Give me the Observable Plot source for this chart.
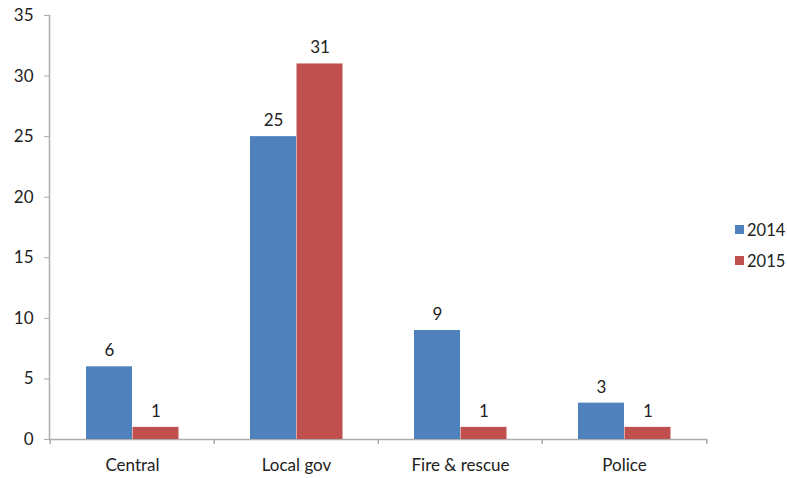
<!DOCTYPE html>
<html>
<head>
<meta charset="utf-8">
<script src="https://cdn.jsdelivr.net/npm/d3@7"></script>
<script src="https://cdn.jsdelivr.net/npm/@observablehq/plot@0.6"></script>
<style>
  html, body { margin: 0; padding: 0; background: #fff; }
  #wrap { position: relative; width: 787px; height: 478px; }
  #legend { position: absolute; left: 735px; top: 214px; font-family: Lato, "Open Sans", sans-serif; font-size: 16.5px; color: #222; }
  .item { display: flex; align-items: center; height: 31px; }
  .sw { width: 9px; height: 9px; margin-right: 3px; }
</style>
</head>
<body>
<div id="wrap"><div id="legend"></div></div>
<script>
const categories = ["Central", "Local gov", "Fire & rescue", "Police"];
const years = ["2014", "2015"];
const values2014 = [6, 25, 9, 3];
const values2015 = [1, 31, 1, 1];
const yTicks = [0, 5, 10, 15, 20, 25, 30, 35];
const colors = ["#4F81BD", "#C0504D"];

const d2014 = categories.map((c, i) => ({category: c, value: values2014[i]}));
const d2015 = categories.map((c, i) => ({category: c, value: values2015[i]}));

const axisGray = "#acacac";
const font = 'Lato, "Open Sans", sans-serif';

const chart = Plot.plot({
  width: 787,
  height: 478,
  marginLeft: 49,
  marginRight: 80,
  marginTop: 15,
  marginBottom: 39,
  style: {fontFamily: font, fontSize: "17px", color: "#222", background: "#fff"},
  x: {domain: categories, padding: 0, label: null},
  y: {domain: [0, 35], label: null},
  marks: [
    Plot.frame({anchor: "left", stroke: axisGray, strokeWidth: 1.5}),
    Plot.ruleY([0], {stroke: axisGray, strokeWidth: 1.5}),
    Plot.axisY({ticks: yTicks, tickSize: 5, tickPadding: 11, stroke: axisGray, fill: "#222", fontSize: 17, label: null}),
    Plot.axisX({tickSize: 0, tickPadding: 19, fill: "#222", fontSize: 17, label: null}),
    Plot.ruleX(categories, {x: d => d, y1: 0, y2: 0, dx: -82.25, insetBottom: -5, stroke: axisGray, strokeWidth: 1.5}),
    Plot.ruleX(categories.slice(-1), {x: d => d, y1: 0, y2: 0, dx: 82.25, insetBottom: -5, stroke: axisGray, strokeWidth: 1.5}),
    Plot.barY(d2014, {x: "category", y: "value", fill: colors[0], insetLeft: 36, insetRight: 82}),
    Plot.barY(d2015, {x: "category", y: "value", fill: colors[1], insetLeft: 82.5, insetRight: 35.5}),
    Plot.text(d2014, {x: "category", y: "value", text: d => String(d.value), dx: -23, dy: -16, fill: "#222", fontSize: 17}),
    Plot.text(d2015, {x: "category", y: "value", text: d => String(d.value), dx: 23.5, dy: -16, fill: "#222", fontSize: 17})
  ]
});
const wrap = document.getElementById("wrap");
wrap.insertBefore(chart, wrap.firstChild);

const legend = document.getElementById("legend");
years.forEach((y, i) => {
  const item = document.createElement("div");
  item.className = "item";
  const sw = document.createElement("div");
  sw.className = "sw";
  sw.style.background = colors[i];
  const t = document.createElement("span");
  t.textContent = y;
  item.appendChild(sw);
  item.appendChild(t);
  legend.appendChild(item);
});
</script>
</body>
</html>
